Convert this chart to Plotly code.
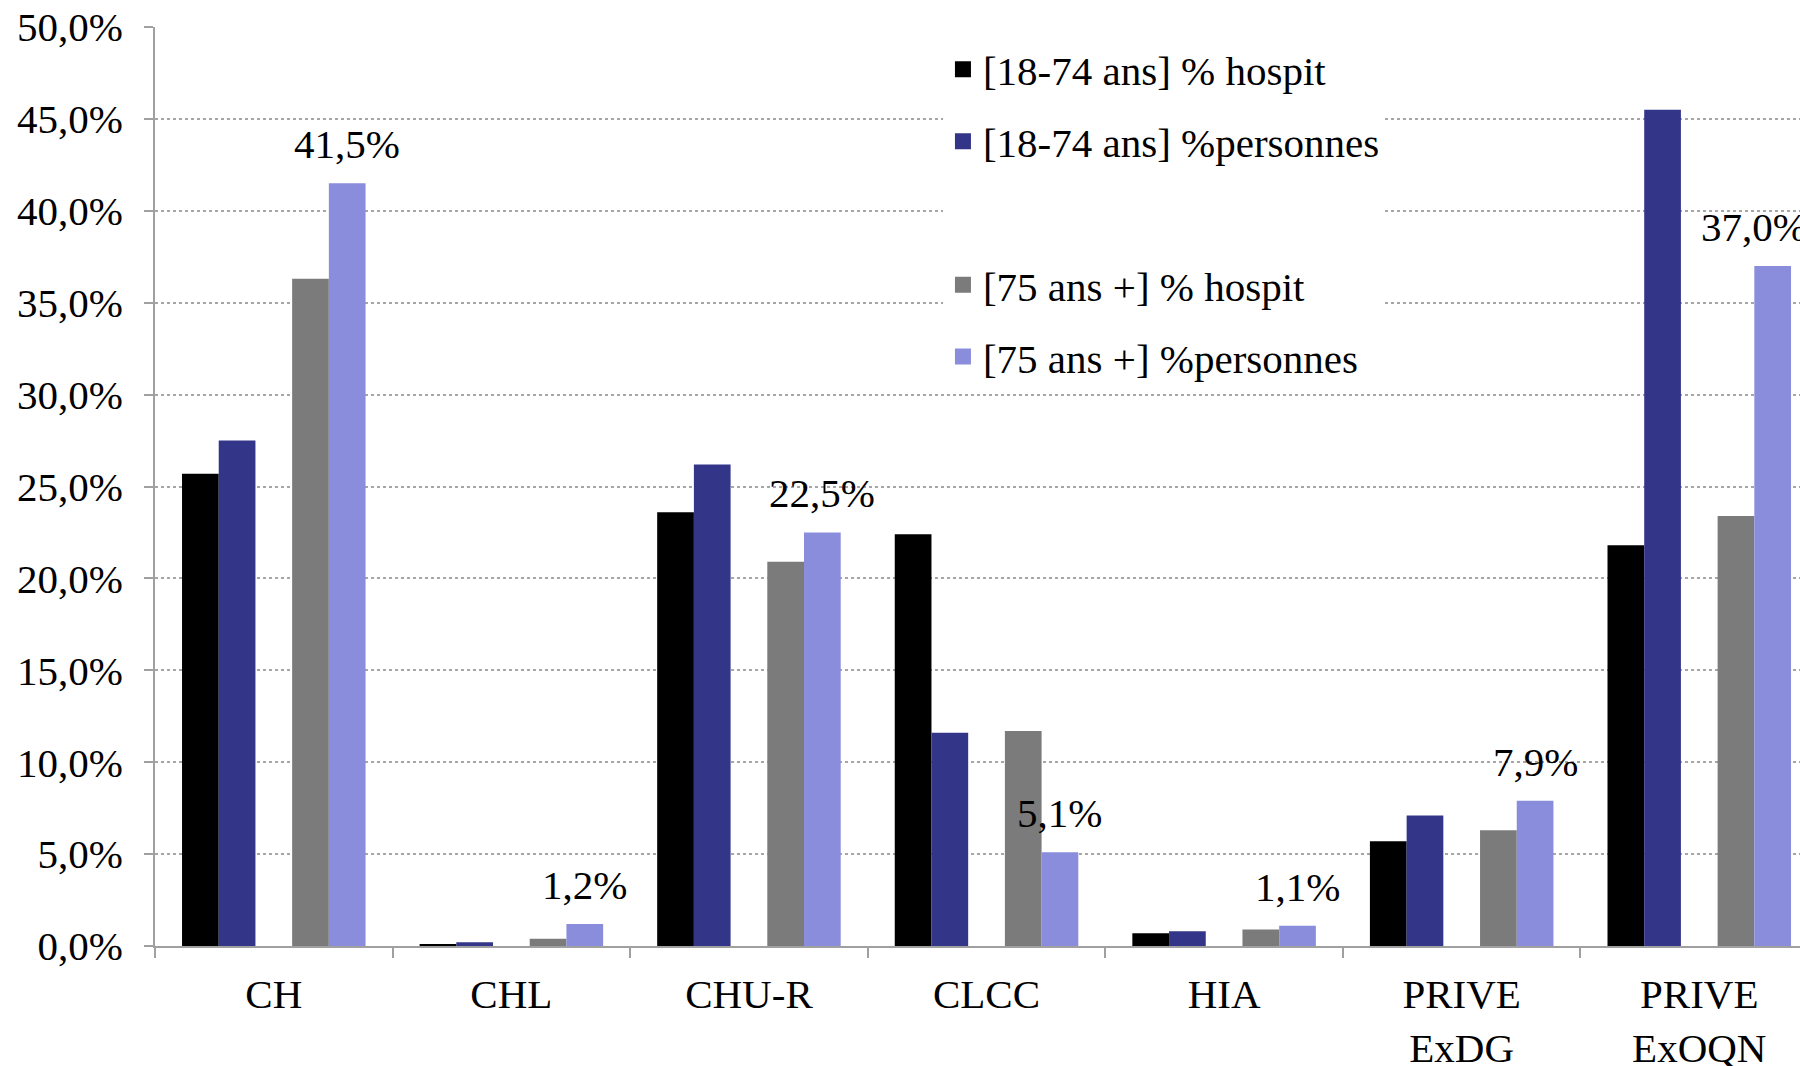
import plotly.graph_objects as go

categories = ['CH', 'CHL', 'CHU-R', 'CLCC', 'HIA', 'PRIVE<br>ExDG', 'PRIVE<br>ExOQN']
hospit_18_74 = [25.7, 0.1, 23.6, 22.4, 0.7, 5.7, 21.8]
personnes_18_74 = [27.5, 0.2, 26.2, 11.6, 0.8, 7.1, 45.5]
hospit_75 = [36.3, 0.4, 20.9, 11.7, 0.9, 6.3, 23.4]
personnes_75 = [41.5, 1.2, 22.5, 5.1, 1.1, 7.9, 37.0]

names = ['[18-74 ans] % hospit', '[18-74 ans] %personnes',
         '[75 ans +] % hospit', '[75 ans +] %personnes']
colors = ['#000000', '#333688', '#7b7b7b', '#8a8ddb']
series = [hospit_18_74, personnes_18_74, hospit_75, personnes_75]

font_family = 'Liberation Serif, Times New Roman, serif'
bar_w = 0.1545
offsets = [-2.5 * bar_w, -1.5 * bar_w, 0.5 * bar_w, 1.5 * bar_w]

fig = go.Figure()
for i in range(4):
    fig.add_trace(go.Bar(
        x=categories, y=series[i], name=names[i],
        marker=dict(color=colors[i], line=dict(width=0)),
        width=bar_w, offset=offsets[i], showlegend=False,
    ))

# value labels only on the last series, a bit above the bar top
for i, v in enumerate(personnes_75):
    fig.add_annotation(
        x=i + offsets[3] + bar_w / 2, y=v, xref='x', yref='y',
        text=f'{v:.1f}%'.replace('.', ','), showarrow=False,
        yanchor='bottom', yshift=14,
        xshift=-19 if i == len(personnes_75) - 1 else 0,  # pushed in from the right edge
        font=dict(family=font_family, size=41, color='black'),
    )

# legend entries (bigger squares than the default bar symbol), blank row between age groups
legend_items = [(names[0], colors[0]), (names[1], colors[1]), (' ', 'rgba(0,0,0,0)'),
                (names[2], colors[2]), (names[3], colors[3])]
for k, (nm, col) in enumerate(legend_items):
    fig.add_trace(go.Scatter(
        x=[None], y=[None], name=nm, mode='markers',
        marker=dict(symbol='square', size=20, color=col),
        legendgroup=f'g{k}', showlegend=True,
    ))

fig.update_layout(
    width=1800, height=1066,
    margin=dict(l=155, r=0, t=27, b=120),
    plot_bgcolor='white', paper_bgcolor='white',
    separators=', ',
    barmode='group',
    font=dict(family=font_family, size=41, color='black'),
    legend=dict(x=0.479, y=0.99, xanchor='left', yanchor='top',
                bgcolor='white', borderwidth=0, tracegroupgap=15.5,
                traceorder='grouped', itemsizing='trace',
                font=dict(family=font_family, size=41, color='black')),
)
fig.update_xaxes(
    range=[-0.5, 6.424], automargin=False, showgrid=False,
    showline=True, linecolor='#a0a0a0', linewidth=2,
    ticks='outside', tickson='boundaries', ticklen=10, tickcolor='#a0a0a0', tickwidth=2,
    ticklabelstandoff=11,
    tickfont=dict(family=font_family, size=41, color='black'),
)
fig.update_yaxes(
    range=[0, 50], dtick=5, tickformat='.1f', ticksuffix='%', automargin=False,
    showgrid=True, gridcolor='#a6a6a6', gridwidth=1.5, griddash='dot',
    showline=True, linecolor='#a0a0a0', linewidth=2, zeroline=False,
    ticks='outside', ticklen=9, tickcolor='#a0a0a0', tickwidth=2,
    ticklabelstandoff=13, ticklabeloverflow='allow',
    tickfont=dict(family=font_family, size=41, color='black'),
)

# drop the default 8px body margin so the figure fills the window
fig.write_html('out.html', config={'displayModeBar': False},
               post_script="document.body.style.margin = '0';")
